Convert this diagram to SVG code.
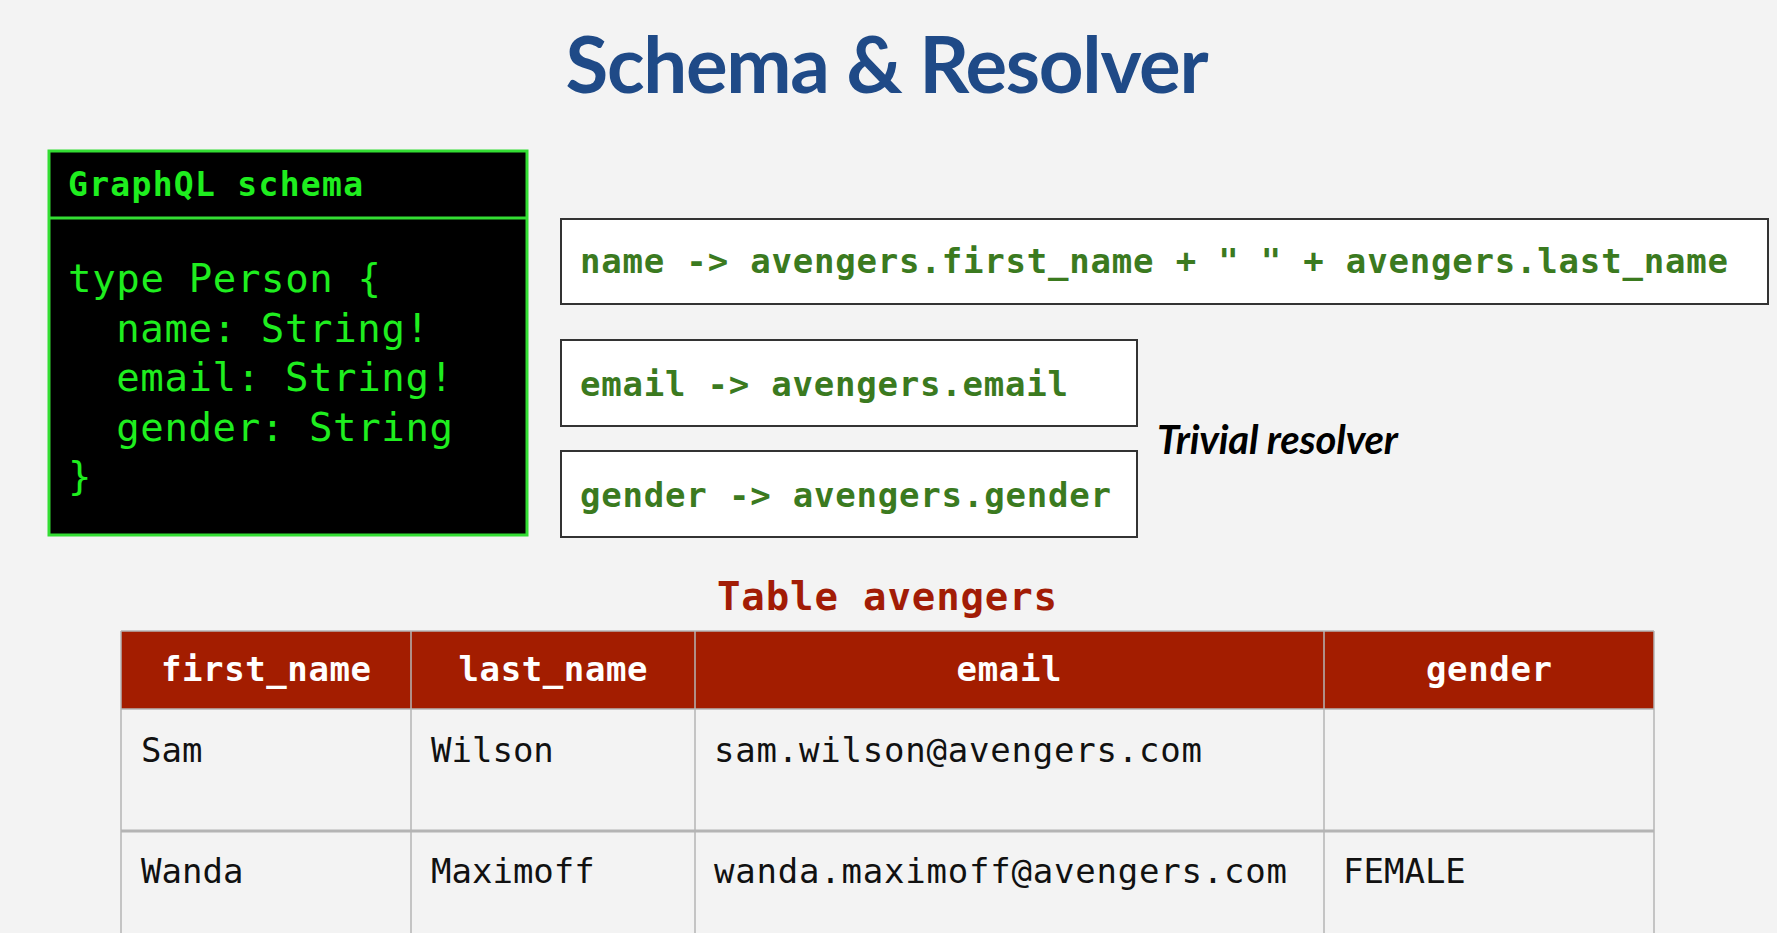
<svg xmlns="http://www.w3.org/2000/svg" width="1777" height="933" viewBox="0 0 1777 933">
<style>
.bg{fill:#f3f3f3}
.title{font-family:Lato,"Open Sans",sans-serif;font-weight:bold;font-size:78px;fill:#1f4a87}
.mono{font-family:"DejaVu Sans Mono","Liberation Mono",monospace}
.code{font-size:39px;fill:#1fee1f}
.codeh{font-size:33px;font-weight:bold;fill:#1fee1f}
.res{font-size:34px;font-weight:bold;fill:#3b7a1f}
.rbox{fill:#ffffff;stroke:#333333;stroke-width:2}
.triv{font-family:Lato,"Open Sans",sans-serif;font-weight:bold;font-style:italic;font-size:40px;fill:#000}
.tcap{font-size:39px;font-weight:bold;fill:#a21c06}
.th{font-size:34px;font-weight:bold;fill:#ffffff}
.td{font-size:34px;fill:#111111}
.grid{stroke:#b4b4b4;stroke-width:1.5}
</style>
<rect class="bg" x="0" y="0" width="1777" height="933"/>
<text class="title" x="887" y="93" text-anchor="middle" textLength="643">Schema &amp; Resolver</text>

<g id="schema">
<rect x="49" y="151" width="478" height="384" fill="#000" stroke="#33dd33" stroke-width="3"/>
<line x1="49" y1="218" x2="527" y2="218" stroke="#33dd33" stroke-width="3"/>
<text class="mono codeh" x="68" y="196" textLength="295">GraphQL schema</text>
<text class="mono code" x="68" y="292" textLength="313">type Person {</text>
<text class="mono code" x="68" y="342" xml:space="preserve" textLength="361">  name: String!</text>
<text class="mono code" x="68" y="391" xml:space="preserve" textLength="385">  email: String!</text>
<text class="mono code" x="68" y="441" xml:space="preserve" textLength="385">  gender: String</text>
<text class="mono code" x="68" y="490">}</text>
</g>

<g id="resolver-name">
<rect class="rbox" x="561" y="219" width="1207" height="85"/>
<text class="mono res" x="580" y="273" textLength="1148">name -&gt; avengers.first_name + " " + avengers.last_name</text>
</g>
<g id="resolver-email">
<rect class="rbox" x="561" y="340" width="576" height="86"/>
<text class="mono res" x="580" y="396" textLength="488">email -&gt; avengers.email</text>
</g>
<g id="resolver-gender">
<rect class="rbox" x="561" y="451" width="576" height="86"/>
<text class="mono res" x="580" y="507" textLength="531">gender -&gt; avengers.gender</text>
</g>
<g id="trivial-label">
<text class="triv" x="1157" y="454" textLength="241">Trivial resolver</text>
</g>

<g id="table">
<text class="mono tcap" x="887" y="610" text-anchor="middle" textLength="340">Table avengers</text>
<rect x="121" y="631" width="1533" height="78" fill="#a31d00"/>
<g class="grid">
<line x1="121" y1="631" x2="1654" y2="631"/>
<line x1="121" y1="709" x2="1654" y2="709"/>
<line x1="121" y1="831" x2="1654" y2="831" stroke-width="3"/>
<line x1="121" y1="631" x2="121" y2="933"/>
<line x1="411" y1="631" x2="411" y2="933"/>
<line x1="695" y1="631" x2="695" y2="933"/>
<line x1="1324" y1="631" x2="1324" y2="933"/>
<line x1="1654" y1="631" x2="1654" y2="933"/>
</g>
<text class="mono th" x="266" y="681" text-anchor="middle" textLength="210">first_name</text>
<text class="mono th" x="553" y="681" text-anchor="middle" textLength="189">last_name</text>
<text class="mono th" x="1009" y="681" text-anchor="middle" textLength="105">email</text>
<text class="mono th" x="1489" y="681" text-anchor="middle" textLength="126">gender</text>
<text class="mono td" x="141" y="762">Sam</text>
<text class="mono td" x="431" y="762">Wilson</text>
<text class="mono td" x="714" y="762" textLength="488">sam.wilson@avengers.com</text>
<text class="mono td" x="141" y="883">Wanda</text>
<text class="mono td" x="431" y="883">Maximoff</text>
<text class="mono td" x="714" y="883" textLength="573">wanda.maximoff@avengers.com</text>
<text class="mono td" x="1343" y="883">FEMALE</text>
</g>
</svg>
